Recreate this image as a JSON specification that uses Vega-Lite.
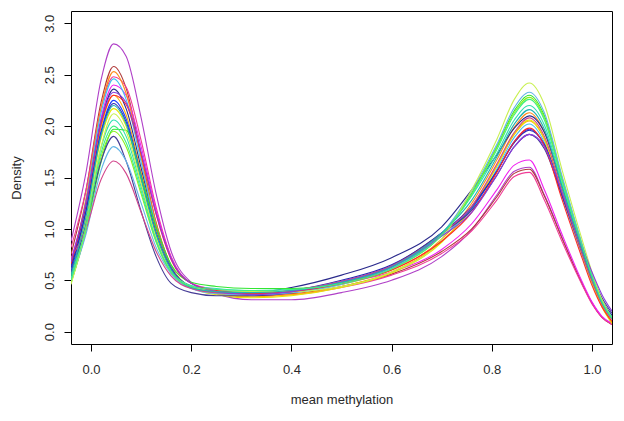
{
"$schema": "https://vega.github.io/schema/vega-lite/v6.json",
"width": 541,
"height": 333,
"autosize": {"type": "none"},
"padding": {"left": 71, "top": 11, "right": 12, "bottom": 77},
"background": "white",
"config": {
  "view": {"stroke": "#000000", "strokeWidth": 1},
  "font": "Liberation Sans",
  "axis": {"grid": false, "domain": false, "tickColor": "#000000", "tickSize": 7, "tickWidth": 1, "labelFont": "Liberation Sans", "titleFont": "Liberation Sans", "labelFontSize": 13, "titleFontSize": 13, "labelColor": "#2a2a2a", "titleColor": "#2a2a2a", "titleFontWeight": "normal"}
},
"data": {"values": [
{"s":1,"x":-0.04,"y":0.88},{"s":1,"x":-0.01,"y":1.55},{"s":1,"x":0.02,"y":2.45},{"s":1,"x":0.045,"y":2.80},{"s":1,"x":0.07,"y":2.68},{"s":1,"x":0.1,"y":2.08},{"s":1,"x":0.13,"y":1.34},{"s":1,"x":0.16,"y":0.78},{"s":1,"x":0.2,"y":0.48},{"s":1,"x":0.25,"y":0.37},{"s":1,"x":0.32,"y":0.31},{"s":1,"x":0.4,"y":0.31},{"s":1,"x":0.5,"y":0.38},{"s":1,"x":0.6,"y":0.50},{"s":1,"x":0.7,"y":0.73},{"s":1,"x":0.76,"y":0.99},{"s":1,"x":0.81,"y":1.33},{"s":1,"x":0.845,"y":1.56},{"s":1,"x":0.875,"y":1.60},{"s":1,"x":0.905,"y":1.33},{"s":1,"x":0.94,"y":0.92},{"s":1,"x":0.98,"y":0.47},{"s":1,"x":1.0,"y":0.28},{"s":1,"x":1.02,"y":0.14},{"s":1,"x":1.04,"y":0.07},
{"s":2,"x":-0.04,"y":0.75},{"s":2,"x":-0.01,"y":1.38},{"s":2,"x":0.02,"y":2.23},{"s":2,"x":0.045,"y":2.58},{"s":2,"x":0.07,"y":2.37},{"s":2,"x":0.1,"y":1.72},{"s":2,"x":0.13,"y":1.06},{"s":2,"x":0.16,"y":0.64},{"s":2,"x":0.2,"y":0.44},{"s":2,"x":0.25,"y":0.40},{"s":2,"x":0.32,"y":0.36},{"s":2,"x":0.4,"y":0.37},{"s":2,"x":0.5,"y":0.44},{"s":2,"x":0.6,"y":0.56},{"s":2,"x":0.7,"y":0.78},{"s":2,"x":0.76,"y":1.00},{"s":2,"x":0.81,"y":1.31},{"s":2,"x":0.845,"y":1.54},{"s":2,"x":0.875,"y":1.58},{"s":2,"x":0.905,"y":1.32},{"s":2,"x":0.94,"y":0.91},{"s":2,"x":0.98,"y":0.47},{"s":2,"x":1.0,"y":0.28},{"s":2,"x":1.02,"y":0.14},{"s":2,"x":1.04,"y":0.07},
{"s":3,"x":-0.04,"y":0.82},{"s":3,"x":-0.01,"y":1.38},{"s":3,"x":0.02,"y":2.18},{"s":3,"x":0.045,"y":2.48},{"s":3,"x":0.07,"y":2.38},{"s":3,"x":0.1,"y":1.86},{"s":3,"x":0.13,"y":1.21},{"s":3,"x":0.16,"y":0.73},{"s":3,"x":0.2,"y":0.47},{"s":3,"x":0.25,"y":0.40},{"s":3,"x":0.32,"y":0.35},{"s":3,"x":0.4,"y":0.36},{"s":3,"x":0.5,"y":0.43},{"s":3,"x":0.6,"y":0.55},{"s":3,"x":0.7,"y":0.76},{"s":3,"x":0.76,"y":0.98},{"s":3,"x":0.81,"y":1.28},{"s":3,"x":0.845,"y":1.51},{"s":3,"x":0.875,"y":1.55},{"s":3,"x":0.905,"y":1.28},{"s":3,"x":0.94,"y":0.88},{"s":3,"x":0.98,"y":0.46},{"s":3,"x":1.0,"y":0.27},{"s":3,"x":1.02,"y":0.14},{"s":3,"x":1.04,"y":0.07},
{"s":4,"x":-0.04,"y":0.70},{"s":4,"x":-0.01,"y":1.25},{"s":4,"x":0.02,"y":2.08},{"s":4,"x":0.045,"y":2.40},{"s":4,"x":0.07,"y":2.30},{"s":4,"x":0.1,"y":1.80},{"s":4,"x":0.13,"y":1.18},{"s":4,"x":0.16,"y":0.72},{"s":4,"x":0.2,"y":0.47},{"s":4,"x":0.25,"y":0.41},{"s":4,"x":0.32,"y":0.38},{"s":4,"x":0.4,"y":0.40},{"s":4,"x":0.5,"y":0.47},{"s":4,"x":0.6,"y":0.58},{"s":4,"x":0.7,"y":0.80},{"s":4,"x":0.76,"y":1.05},{"s":4,"x":0.81,"y":1.38},{"s":4,"x":0.845,"y":1.62},{"s":4,"x":0.875,"y":1.67},{"s":4,"x":0.905,"y":1.38},{"s":4,"x":0.94,"y":0.95},{"s":4,"x":0.98,"y":0.49},{"s":4,"x":1.0,"y":0.29},{"s":4,"x":1.02,"y":0.15},{"s":4,"x":1.04,"y":0.08},
{"s":5,"x":-0.04,"y":0.62},{"s":5,"x":-0.01,"y":1.30},{"s":5,"x":0.02,"y":2.18},{"s":5,"x":0.045,"y":2.53},{"s":5,"x":0.07,"y":2.32},{"s":5,"x":0.1,"y":1.69},{"s":5,"x":0.13,"y":1.05},{"s":5,"x":0.16,"y":0.64},{"s":5,"x":0.2,"y":0.44},{"s":5,"x":0.25,"y":0.40},{"s":5,"x":0.32,"y":0.37},{"s":5,"x":0.4,"y":0.39},{"s":5,"x":0.5,"y":0.47},{"s":5,"x":0.6,"y":0.60},{"s":5,"x":0.7,"y":0.90},{"s":5,"x":0.76,"y":1.25},{"s":5,"x":0.81,"y":1.67},{"s":5,"x":0.845,"y":1.99},{"s":5,"x":0.875,"y":2.13},{"s":5,"x":0.905,"y":1.94},{"s":5,"x":0.94,"y":1.39},{"s":5,"x":0.98,"y":0.79},{"s":5,"x":1.0,"y":0.51},{"s":5,"x":1.02,"y":0.26},{"s":5,"x":1.04,"y":0.08},
{"s":6,"x":-0.04,"y":0.60},{"s":6,"x":-0.01,"y":1.27},{"s":6,"x":0.02,"y":2.13},{"s":6,"x":0.045,"y":2.46},{"s":6,"x":0.07,"y":2.26},{"s":6,"x":0.1,"y":1.65},{"s":6,"x":0.13,"y":1.02},{"s":6,"x":0.16,"y":0.63},{"s":6,"x":0.2,"y":0.44},{"s":6,"x":0.25,"y":0.39},{"s":6,"x":0.32,"y":0.36},{"s":6,"x":0.4,"y":0.38},{"s":6,"x":0.5,"y":0.47},{"s":6,"x":0.6,"y":0.62},{"s":6,"x":0.7,"y":0.93},{"s":6,"x":0.76,"y":1.19},{"s":6,"x":0.81,"y":1.58},{"s":6,"x":0.845,"y":1.89},{"s":6,"x":0.875,"y":2.02},{"s":6,"x":0.905,"y":1.84},{"s":6,"x":0.94,"y":1.32},{"s":6,"x":0.98,"y":0.75},{"s":6,"x":1.0,"y":0.48},{"s":6,"x":1.02,"y":0.26},{"s":6,"x":1.04,"y":0.12},
{"s":7,"x":-0.04,"y":0.65},{"s":7,"x":-0.01,"y":1.23},{"s":7,"x":0.02,"y":2.04},{"s":7,"x":0.045,"y":2.36},{"s":7,"x":0.07,"y":2.17},{"s":7,"x":0.1,"y":1.59},{"s":7,"x":0.13,"y":0.99},{"s":7,"x":0.16,"y":0.62},{"s":7,"x":0.2,"y":0.44},{"s":7,"x":0.25,"y":0.40},{"s":7,"x":0.32,"y":0.38},{"s":7,"x":0.4,"y":0.43},{"s":7,"x":0.5,"y":0.55},{"s":7,"x":0.6,"y":0.72},{"s":7,"x":0.7,"y":1.02},{"s":7,"x":0.76,"y":1.38},{"s":7,"x":0.81,"y":1.72},{"s":7,"x":0.845,"y":1.98},{"s":7,"x":0.875,"y":2.10},{"s":7,"x":0.905,"y":1.94},{"s":7,"x":0.94,"y":1.42},{"s":7,"x":0.98,"y":0.82},{"s":7,"x":1.0,"y":0.54},{"s":7,"x":1.02,"y":0.30},{"s":7,"x":1.04,"y":0.15},
{"s":8,"x":-0.04,"y":0.55},{"s":8,"x":-0.01,"y":1.15},{"s":8,"x":0.02,"y":1.99},{"s":8,"x":0.045,"y":2.30},{"s":8,"x":0.07,"y":2.11},{"s":8,"x":0.1,"y":1.55},{"s":8,"x":0.13,"y":0.98},{"s":8,"x":0.16,"y":0.61},{"s":8,"x":0.2,"y":0.43},{"s":8,"x":0.25,"y":0.37},{"s":8,"x":0.32,"y":0.34},{"s":8,"x":0.4,"y":0.36},{"s":8,"x":0.5,"y":0.44},{"s":8,"x":0.6,"y":0.58},{"s":8,"x":0.7,"y":0.88},{"s":8,"x":0.76,"y":1.20},{"s":8,"x":0.81,"y":1.61},{"s":8,"x":0.845,"y":1.92},{"s":8,"x":0.875,"y":2.05},{"s":8,"x":0.905,"y":1.87},{"s":8,"x":0.94,"y":1.34},{"s":8,"x":0.98,"y":0.76},{"s":8,"x":1.0,"y":0.48},{"s":8,"x":1.02,"y":0.25},{"s":8,"x":1.04,"y":0.09},
{"s":9,"x":-0.04,"y":0.50},{"s":9,"x":-0.01,"y":1.08},{"s":9,"x":0.02,"y":1.88},{"s":9,"x":0.045,"y":2.17},{"s":9,"x":0.07,"y":2.00},{"s":9,"x":0.1,"y":1.47},{"s":9,"x":0.13,"y":0.94},{"s":9,"x":0.16,"y":0.60},{"s":9,"x":0.2,"y":0.43},{"s":9,"x":0.25,"y":0.36},{"s":9,"x":0.32,"y":0.33},{"s":9,"x":0.4,"y":0.35},{"s":9,"x":0.5,"y":0.43},{"s":9,"x":0.6,"y":0.57},{"s":9,"x":0.7,"y":0.87},{"s":9,"x":0.76,"y":1.21},{"s":9,"x":0.81,"y":1.61},{"s":9,"x":0.845,"y":1.93},{"s":9,"x":0.875,"y":2.06},{"s":9,"x":0.905,"y":1.88},{"s":9,"x":0.94,"y":1.34},{"s":9,"x":0.98,"y":0.76},{"s":9,"x":1.0,"y":0.48},{"s":9,"x":1.02,"y":0.24},{"s":9,"x":1.04,"y":0.08},
{"s":10,"x":-0.04,"y":0.58},{"s":10,"x":-0.01,"y":1.18},{"s":10,"x":0.02,"y":1.95},{"s":10,"x":0.045,"y":2.25},{"s":10,"x":0.07,"y":2.07},{"s":10,"x":0.1,"y":1.52},{"s":10,"x":0.13,"y":0.96},{"s":10,"x":0.16,"y":0.61},{"s":10,"x":0.2,"y":0.43},{"s":10,"x":0.25,"y":0.38},{"s":10,"x":0.32,"y":0.36},{"s":10,"x":0.4,"y":0.39},{"s":10,"x":0.5,"y":0.49},{"s":10,"x":0.6,"y":0.64},{"s":10,"x":0.7,"y":0.95},{"s":10,"x":0.76,"y":1.20},{"s":10,"x":0.81,"y":1.56},{"s":10,"x":0.845,"y":1.85},{"s":10,"x":0.875,"y":1.97},{"s":10,"x":0.905,"y":1.82},{"s":10,"x":0.94,"y":1.33},{"s":10,"x":0.98,"y":0.77},{"s":10,"x":1.0,"y":0.50},{"s":10,"x":1.02,"y":0.28},{"s":10,"x":1.04,"y":0.14},
{"s":11,"x":-0.04,"y":0.62},{"s":11,"x":-0.01,"y":1.17},{"s":11,"x":0.02,"y":1.93},{"s":11,"x":0.045,"y":2.22},{"s":11,"x":0.07,"y":2.04},{"s":11,"x":0.1,"y":1.50},{"s":11,"x":0.13,"y":0.95},{"s":11,"x":0.16,"y":0.60},{"s":11,"x":0.2,"y":0.43},{"s":11,"x":0.25,"y":0.39},{"s":11,"x":0.32,"y":0.37},{"s":11,"x":0.4,"y":0.40},{"s":11,"x":0.5,"y":0.50},{"s":11,"x":0.6,"y":0.65},{"s":11,"x":0.7,"y":0.96},{"s":11,"x":0.76,"y":1.22},{"s":11,"x":0.81,"y":1.56},{"s":11,"x":0.845,"y":1.84},{"s":11,"x":0.875,"y":1.96},{"s":11,"x":0.905,"y":1.82},{"s":11,"x":0.94,"y":1.34},{"s":11,"x":0.98,"y":0.78},{"s":11,"x":1.0,"y":0.52},{"s":11,"x":1.02,"y":0.30},{"s":11,"x":1.04,"y":0.16},
{"s":12,"x":-0.04,"y":0.52},{"s":12,"x":-0.01,"y":1.05},{"s":12,"x":0.02,"y":1.79},{"s":12,"x":0.045,"y":2.06},{"s":12,"x":0.07,"y":1.90},{"s":12,"x":0.1,"y":1.41},{"s":12,"x":0.13,"y":0.90},{"s":12,"x":0.16,"y":0.59},{"s":12,"x":0.2,"y":0.45},{"s":12,"x":0.25,"y":0.42},{"s":12,"x":0.32,"y":0.40},{"s":12,"x":0.4,"y":0.41},{"s":12,"x":0.5,"y":0.48},{"s":12,"x":0.6,"y":0.63},{"s":12,"x":0.7,"y":0.95},{"s":12,"x":0.76,"y":1.32},{"s":12,"x":0.81,"y":1.73},{"s":12,"x":0.845,"y":2.06},{"s":12,"x":0.875,"y":2.20},{"s":12,"x":0.905,"y":2.01},{"s":12,"x":0.94,"y":1.44},{"s":12,"x":0.98,"y":0.82},{"s":12,"x":1.0,"y":0.53},{"s":12,"x":1.02,"y":0.29},{"s":12,"x":1.04,"y":0.13},
{"s":13,"x":-0.04,"y":0.48},{"s":13,"x":-0.01,"y":0.98},{"s":13,"x":0.02,"y":1.65},{"s":13,"x":0.045,"y":1.97},{"s":13,"x":0.07,"y":1.96},{"s":13,"x":0.1,"y":1.51},{"s":13,"x":0.13,"y":1.02},{"s":13,"x":0.16,"y":0.65},{"s":13,"x":0.2,"y":0.48},{"s":13,"x":0.25,"y":0.44},{"s":13,"x":0.32,"y":0.42},{"s":13,"x":0.4,"y":0.42},{"s":13,"x":0.5,"y":0.47},{"s":13,"x":0.6,"y":0.62},{"s":13,"x":0.7,"y":0.95},{"s":13,"x":0.76,"y":1.35},{"s":13,"x":0.81,"y":1.80},{"s":13,"x":0.845,"y":2.15},{"s":13,"x":0.875,"y":2.30},{"s":13,"x":0.905,"y":2.10},{"s":13,"x":0.94,"y":1.50},{"s":13,"x":0.98,"y":0.85},{"s":13,"x":1.0,"y":0.55},{"s":13,"x":1.02,"y":0.30},{"s":13,"x":1.04,"y":0.14},
{"s":14,"x":-0.04,"y":0.47},{"s":14,"x":-0.01,"y":0.98},{"s":14,"x":0.02,"y":1.70},{"s":14,"x":0.045,"y":1.95},{"s":14,"x":0.07,"y":1.80},{"s":14,"x":0.1,"y":1.34},{"s":14,"x":0.13,"y":0.87},{"s":14,"x":0.16,"y":0.57},{"s":14,"x":0.2,"y":0.43},{"s":14,"x":0.25,"y":0.39},{"s":14,"x":0.32,"y":0.38},{"s":14,"x":0.4,"y":0.39},{"s":14,"x":0.5,"y":0.46},{"s":14,"x":0.6,"y":0.61},{"s":14,"x":0.7,"y":0.94},{"s":14,"x":0.76,"y":1.34},{"s":14,"x":0.81,"y":1.79},{"s":14,"x":0.845,"y":2.13},{"s":14,"x":0.875,"y":2.28},{"s":14,"x":0.905,"y":2.08},{"s":14,"x":0.94,"y":1.49},{"s":14,"x":0.98,"y":0.84},{"s":14,"x":1.0,"y":0.55},{"s":14,"x":1.02,"y":0.30},{"s":14,"x":1.04,"y":0.14},
{"s":15,"x":-0.04,"y":0.58},{"s":15,"x":-0.01,"y":1.04},{"s":15,"x":0.02,"y":1.66},{"s":15,"x":0.045,"y":1.90},{"s":15,"x":0.07,"y":1.66},{"s":15,"x":0.1,"y":1.17},{"s":15,"x":0.13,"y":0.73},{"s":15,"x":0.16,"y":0.47},{"s":15,"x":0.2,"y":0.38},{"s":15,"x":0.25,"y":0.35},{"s":15,"x":0.32,"y":0.35},{"s":15,"x":0.4,"y":0.38},{"s":15,"x":0.5,"y":0.48},{"s":15,"x":0.6,"y":0.64},{"s":15,"x":0.7,"y":0.96},{"s":15,"x":0.76,"y":1.18},{"s":15,"x":0.81,"y":1.52},{"s":15,"x":0.845,"y":1.80},{"s":15,"x":0.875,"y":1.92},{"s":15,"x":0.905,"y":1.78},{"s":15,"x":0.94,"y":1.33},{"s":15,"x":0.98,"y":0.80},{"s":15,"x":1.0,"y":0.55},{"s":15,"x":1.02,"y":0.33},{"s":15,"x":1.04,"y":0.18},
{"s":16,"x":-0.04,"y":0.50},{"s":16,"x":-0.01,"y":0.95},{"s":16,"x":0.02,"y":1.57},{"s":16,"x":0.045,"y":1.80},{"s":16,"x":0.07,"y":1.66},{"s":16,"x":0.1,"y":1.25},{"s":16,"x":0.13,"y":0.82},{"s":16,"x":0.16,"y":0.56},{"s":16,"x":0.2,"y":0.42},{"s":16,"x":0.25,"y":0.37},{"s":16,"x":0.32,"y":0.36},{"s":16,"x":0.4,"y":0.38},{"s":16,"x":0.5,"y":0.46},{"s":16,"x":0.6,"y":0.62},{"s":16,"x":0.7,"y":0.95},{"s":16,"x":0.76,"y":1.37},{"s":16,"x":0.81,"y":1.82},{"s":16,"x":0.845,"y":2.18},{"s":16,"x":0.875,"y":2.33},{"s":16,"x":0.905,"y":2.13},{"s":16,"x":0.94,"y":1.52},{"s":16,"x":0.98,"y":0.86},{"s":16,"x":1.0,"y":0.56},{"s":16,"x":1.02,"y":0.30},{"s":16,"x":1.04,"y":0.14},
{"s":17,"x":-0.04,"y":0.72},{"s":17,"x":-0.01,"y":1.00},{"s":17,"x":0.02,"y":1.48},{"s":17,"x":0.045,"y":1.66},{"s":17,"x":0.07,"y":1.54},{"s":17,"x":0.1,"y":1.16},{"s":17,"x":0.13,"y":0.78},{"s":17,"x":0.16,"y":0.54},{"s":17,"x":0.2,"y":0.42},{"s":17,"x":0.25,"y":0.38},{"s":17,"x":0.32,"y":0.37},{"s":17,"x":0.4,"y":0.40},{"s":17,"x":0.5,"y":0.49},{"s":17,"x":0.6,"y":0.64},{"s":17,"x":0.7,"y":0.95},{"s":17,"x":0.76,"y":1.22},{"s":17,"x":0.81,"y":1.63},{"s":17,"x":0.845,"y":1.94},{"s":17,"x":0.875,"y":2.08},{"s":17,"x":0.905,"y":1.90},{"s":17,"x":0.94,"y":1.36},{"s":17,"x":0.98,"y":0.77},{"s":17,"x":1.0,"y":0.50},{"s":17,"x":1.02,"y":0.27},{"s":17,"x":1.04,"y":0.12},
{"s":18,"x":-0.04,"y":0.46},{"s":18,"x":-0.01,"y":1.02},{"s":18,"x":0.02,"y":1.80},{"s":18,"x":0.045,"y":2.12},{"s":18,"x":0.07,"y":1.95},{"s":18,"x":0.1,"y":1.44},{"s":18,"x":0.13,"y":0.92},{"s":18,"x":0.16,"y":0.59},{"s":18,"x":0.2,"y":0.44},{"s":18,"x":0.25,"y":0.40},{"s":18,"x":0.32,"y":0.39},{"s":18,"x":0.4,"y":0.39},{"s":18,"x":0.5,"y":0.44},{"s":18,"x":0.6,"y":0.58},{"s":18,"x":0.7,"y":0.90},{"s":18,"x":0.76,"y":1.38},{"s":18,"x":0.81,"y":1.87},{"s":18,"x":0.845,"y":2.26},{"s":18,"x":0.875,"y":2.42},{"s":18,"x":0.905,"y":2.21},{"s":18,"x":0.94,"y":1.58},{"s":18,"x":0.98,"y":0.90},{"s":18,"x":1.0,"y":0.58},{"s":18,"x":1.02,"y":0.31},{"s":18,"x":1.04,"y":0.13},
{"s":19,"x":-0.04,"y":0.66},{"s":19,"x":-0.01,"y":1.25},{"s":19,"x":0.02,"y":2.02},{"s":19,"x":0.045,"y":2.30},{"s":19,"x":0.07,"y":2.21},{"s":19,"x":0.1,"y":1.73},{"s":19,"x":0.13,"y":1.14},{"s":19,"x":0.16,"y":0.70},{"s":19,"x":0.2,"y":0.47},{"s":19,"x":0.25,"y":0.40},{"s":19,"x":0.32,"y":0.37},{"s":19,"x":0.4,"y":0.39},{"s":19,"x":0.5,"y":0.47},{"s":19,"x":0.6,"y":0.60},{"s":19,"x":0.7,"y":0.88},{"s":19,"x":0.76,"y":1.16},{"s":19,"x":0.81,"y":1.55},{"s":19,"x":0.845,"y":1.85},{"s":19,"x":0.875,"y":1.98},{"s":19,"x":0.905,"y":1.81},{"s":19,"x":0.94,"y":1.29},{"s":19,"x":0.98,"y":0.72},{"s":19,"x":1.0,"y":0.45},{"s":19,"x":1.02,"y":0.24},{"s":19,"x":1.04,"y":0.10},
{"s":20,"x":-0.04,"y":0.68},{"s":20,"x":-0.01,"y":1.26},{"s":20,"x":0.02,"y":2.05},{"s":20,"x":0.045,"y":2.33},{"s":20,"x":0.07,"y":2.23},{"s":20,"x":0.1,"y":1.75},{"s":20,"x":0.13,"y":1.15},{"s":20,"x":0.16,"y":0.71},{"s":20,"x":0.2,"y":0.47},{"s":20,"x":0.25,"y":0.39},{"s":20,"x":0.32,"y":0.36},{"s":20,"x":0.4,"y":0.39},{"s":20,"x":0.5,"y":0.48},{"s":20,"x":0.6,"y":0.63},{"s":20,"x":0.7,"y":0.93},{"s":20,"x":0.76,"y":1.16},{"s":20,"x":0.81,"y":1.52},{"s":20,"x":0.845,"y":1.80},{"s":20,"x":0.875,"y":1.92},{"s":20,"x":0.905,"y":1.80},{"s":20,"x":0.94,"y":1.36},{"s":20,"x":0.98,"y":0.83},{"s":20,"x":1.0,"y":0.58},{"s":20,"x":1.02,"y":0.36},{"s":20,"x":1.04,"y":0.20},
{"s":21,"x":-0.04,"y":0.55},{"s":21,"x":-0.01,"y":1.12},{"s":21,"x":0.02,"y":1.91},{"s":21,"x":0.045,"y":2.20},{"s":21,"x":0.07,"y":2.02},{"s":21,"x":0.1,"y":1.49},{"s":21,"x":0.13,"y":0.95},{"s":21,"x":0.16,"y":0.60},{"s":21,"x":0.2,"y":0.43},{"s":21,"x":0.25,"y":0.39},{"s":21,"x":0.32,"y":0.38},{"s":21,"x":0.4,"y":0.40},{"s":21,"x":0.5,"y":0.48},{"s":21,"x":0.6,"y":0.63},{"s":21,"x":0.7,"y":0.96},{"s":21,"x":0.76,"y":1.28},{"s":21,"x":0.81,"y":1.70},{"s":21,"x":0.845,"y":2.02},{"s":21,"x":0.875,"y":2.16},{"s":21,"x":0.905,"y":1.97},{"s":21,"x":0.94,"y":1.41},{"s":21,"x":0.98,"y":0.80},{"s":21,"x":1.0,"y":0.52},{"s":21,"x":1.02,"y":0.28},{"s":21,"x":1.04,"y":0.13},
{"s":22,"x":-0.04,"y":0.50},{"s":22,"x":-0.01,"y":1.02},{"s":22,"x":0.02,"y":1.74},{"s":22,"x":0.045,"y":2.00},{"s":22,"x":0.07,"y":1.84},{"s":22,"x":0.1,"y":1.37},{"s":22,"x":0.13,"y":0.88},{"s":22,"x":0.16,"y":0.58},{"s":22,"x":0.2,"y":0.44},{"s":22,"x":0.25,"y":0.41},{"s":22,"x":0.32,"y":0.40},{"s":22,"x":0.4,"y":0.41},{"s":22,"x":0.5,"y":0.47},{"s":22,"x":0.6,"y":0.61},{"s":22,"x":0.7,"y":0.94},{"s":22,"x":0.76,"y":1.33},{"s":22,"x":0.81,"y":1.77},{"s":22,"x":0.845,"y":2.11},{"s":22,"x":0.875,"y":2.26},{"s":22,"x":0.905,"y":2.06},{"s":22,"x":0.94,"y":1.47},{"s":22,"x":0.98,"y":0.84},{"s":22,"x":1.0,"y":0.54},{"s":22,"x":1.02,"y":0.29},{"s":22,"x":1.04,"y":0.13}
]},
"mark": {"type": "line", "interpolate": "monotone", "strokeWidth": 1.1, "clip": true},
"encoding": {
  "x": {"field": "x", "type": "quantitative",
        "scale": {"domain": [-0.04, 1.04], "nice": false, "zero": false},
        "axis": {"title": "mean methylation", "values": [0, 0.2, 0.4, 0.6, 0.8, 1.0], "format": ".1f", "labelPadding": 12, "labelBaseline": "top", "titlePadding": 17}},
  "y": {"field": "y", "type": "quantitative",
        "scale": {"domain": [-0.12, 3.12], "nice": false, "zero": false},
        "axis": {"title": "Density", "values": [0, 0.5, 1.0, 1.5, 2.0, 2.5, 3.0], "format": ".1f", "labelAngle": -90, "labelAlign": "center", "labelBaseline": "alphabetic", "labelPadding": 11, "titlePadding": 20}},
  "color": {"field": "s", "type": "nominal", "legend": null,
            "scale": {"domain": [1,2,3,4,5,6,7,8,9,10,11,12,13,14,15,16,17,18,19,20,21,22],
                      "range": ["#B040C8","#B03A3A","#F03C96","#F020F0","#FF8C1A","#40C0F0","#2A2A8C","#FFB000","#E6E600","#1E3CFF","#2828B4","#30E0B0","#32E632","#8CF01E","#463C96","#64B4E6","#D2468C","#C8F050","#FF2828","#8C3CDC","#20B4B4","#40F080"]}}
}
}
